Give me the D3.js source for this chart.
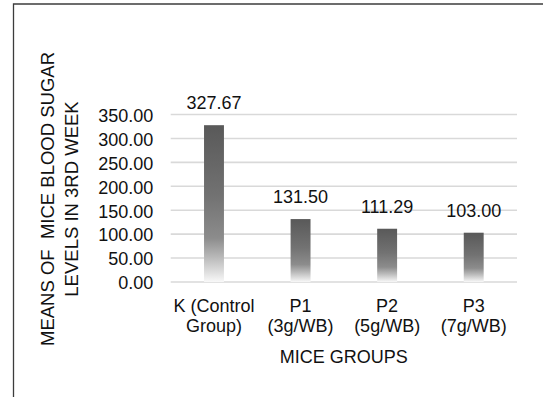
<!DOCTYPE html>
<html>
<head>
<meta charset="utf-8">
<script src="https://cdn.jsdelivr.net/npm/d3@7"></script>
<style>
  html, body { margin: 0; padding: 0; background: #fff; }
  svg { display: block; }
  text { font-family: "Liberation Sans", Arial, sans-serif; fill: #111; }
</style>
</head>
<body>
<svg id="chart" width="543" height="397"></svg>
<script>
// Mean blood sugar levels per mice group, third week
const categories = ["K", "P1", "P2", "P3"];
const categoryLines = [["K (Control", "Group)"], ["P1", "(3g/WB)"], ["P2", "(5g/WB)"], ["P3", "(7g/WB)"]];
const values = [327.67, 131.50, 111.29, 103.00];
const yTicks = [0, 50, 100, 150, 200, 250, 300, 350];
const yTitleLines = ["MEANS OF  MICE BLOOD SUGAR", "LEVELS IN 3RD WEEK"];
const xTitle = "MICE GROUPS";

const svg = d3.select("#chart");
const fontSize = 18;

const plot = { left: 170.7, right: 517, top: 114.5, bottom: 282 };

const x = d3.scaleBand()
  .domain(categories)
  .range([plot.left, plot.right])
  .paddingInner(0.77)
  .paddingOuter(0.385);

const y = d3.scaleLinear()
  .domain([0, 350])
  .range([plot.bottom, plot.top]);

// outer frame
svg.append("path")
  .attr("d", "M13.5,397 V4 H543")
  .attr("fill", "none")
  .attr("stroke", "#3c3c3c")
  .attr("stroke-width", 1.3);

// bar gradient: dark at top, fading to white at the base
const defs = svg.append("defs");
const grad = defs.append("linearGradient")
  .attr("id", "barGrad")
  .attr("x1", 0).attr("y1", 0).attr("x2", 0).attr("y2", 1);
[[0, "#595959"], [0.45, "#727272"], [0.72, "#8c8c8c"], [0.84, "#b8b8b8"], [1, "#f8f8f8"]]
  .forEach(([o, c]) => grad.append("stop").attr("offset", o).attr("stop-color", c));

// gridlines
svg.append("g")
  .selectAll("line")
  .data(yTicks)
  .join("line")
  .attr("x1", plot.left)
  .attr("x2", plot.right)
  .attr("y1", d => y(d))
  .attr("y2", d => y(d))
  .attr("stroke", "#d9d9d9")
  .attr("stroke-width", 1.6);

// y tick labels
const yAxis = d3.axisLeft(y).tickValues(yTicks).tickFormat(d3.format(".2f")).tickSize(0).tickPadding(0);
const yAxisG = svg.append("g")
  .attr("transform", `translate(${plot.left - 17.5},0)`)
  .call(yAxis);
yAxisG.select(".domain").remove();
yAxisG.selectAll("text")
  .attr("font-size", fontSize)
  .attr("font-family", "Liberation Sans, Arial, sans-serif")
  .attr("fill", "#111")
  .attr("dy", "0.38em");

// bars
svg.append("g")
  .selectAll("rect")
  .data(values)
  .join("rect")
  .attr("x", (d, i) => x(categories[i]))
  .attr("width", x.bandwidth())
  .attr("y", d => y(d))
  .attr("height", d => y(0) - y(d))
  .attr("fill", "url(#barGrad)");

// value labels
svg.append("g")
  .selectAll("text")
  .data(values)
  .join("text")
  .attr("x", (d, i) => x(categories[i]) + x.bandwidth() / 2)
  .attr("y", d => y(d) - 16)
  .attr("text-anchor", "middle")
  .attr("font-size", fontSize)
  .text(d => d3.format(".2f")(d));

// category labels
const catG = svg.append("g")
  .selectAll("text")
  .data(categoryLines)
  .join("text")
  .attr("text-anchor", "middle")
  .attr("font-size", fontSize)
  .attr("x", (d, i) => x(categories[i]) + x.bandwidth() / 2);
catG.selectAll("tspan")
  .data(d => d)
  .join("tspan")
  .attr("x", function () { return d3.select(this.parentNode).attr("x"); })
  .attr("y", (d, j) => 311.5 + j * 20.6)
  .text(d => d);

// x axis title
svg.append("text")
  .attr("x", (plot.left + plot.right) / 2)
  .attr("y", 363.3)
  .attr("text-anchor", "middle")
  .attr("font-size", fontSize)
  .text(xTitle);

// y axis title (two lines, rotated)
const yTitle = svg.append("text")
  .attr("transform", "translate(0,199) rotate(-90)")
  .attr("text-anchor", "middle")
  .attr("font-size", 18.5)
  .style("white-space", "pre");
yTitle.selectAll("tspan")
  .data(yTitleLines)
  .join("tspan")
  .attr("x", 0)
  .attr("y", (d, i) => 54.4 + i * 23.5)
  .style("white-space", "pre")
  .text(d => d);
</script>
</body>
</html>
